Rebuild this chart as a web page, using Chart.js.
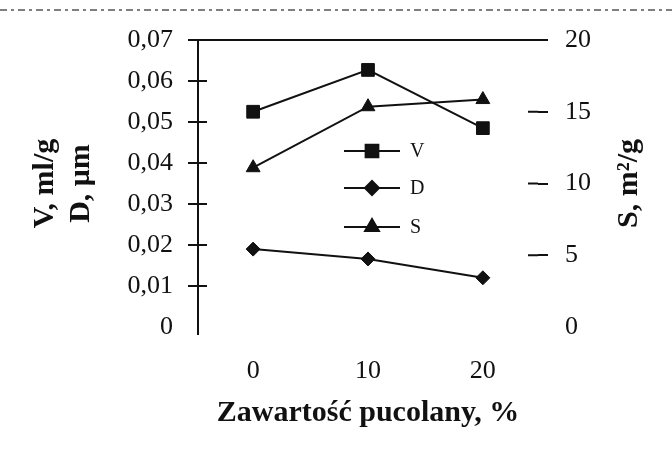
<!DOCTYPE html>
<html lang="pl">
<head>
  <meta charset="UTF-8" />
  <title>V, D, S vs zawartość pucolany</title>
  <script src="https://cdn.jsdelivr.net/npm/chart.js@4.4.0/dist/chart.umd.min.js"></script>
  <style>
    *{box-sizing:border-box;margin:0;padding:0}
    body{background:#fff;width:672px;height:474px;overflow:hidden}
    #wrap{position:relative;width:672px;height:474px}
  </style>
</head>
<body>
<div id="wrap"><canvas id="chart" width="672" height="474"></canvas></div>
<script>
/* data */
const xValues = [0, 10, 20];
const vValues = [0.0525, 0.0627, 0.0485];   // V, ml/g (left axis)
const dValues = [0.0190, 0.0166, 0.0120];   // D, um (left axis)
const sValues = [11.1, 15.35, 15.85];       // S, m2/g (right axis)
const seriesNames = ['V', 'D', 'S'];
const xTicks = [0, 10, 20];
const yTicks = [0, 0.01, 0.02, 0.03, 0.04, 0.05, 0.06, 0.07];
const yTickLabels = ['0', '0,01', '0,02', '0,03', '0,04', '0,05', '0,06', '0,07'];
const y2Ticks = [0, 5, 10, 15, 20];
const y2TickLabels = ['0', '5', '10', '15', '20'];

const ink = '#111';
const serif = "'Liberation Serif', 'DejaVu Serif', serif";
const pts = (ys) => xValues.map((x, i) => ({x: x, y: ys[i]}));

/* crossing tick marks, top frame, right title, inline legend, scan rule */
const extras = {
  id: 'extras',
  afterDraw(c) {
    const {ctx, chartArea: a, scales} = c;
    ctx.save();
    ctx.strokeStyle = ink;
    ctx.lineWidth = 2;
    // inner halves of the ticks
    scales.y.ticks.forEach(t => {
      if (t.value === 0) return;
      const p = scales.y.getPixelForValue(t.value);
      ctx.beginPath(); ctx.moveTo(a.left, p); ctx.lineTo(a.left + 9, p); ctx.stroke();
    });
    scales.y2.ticks.forEach(t => {
      if (t.value === 0) return;
      const p = scales.y2.getPixelForValue(t.value);
      ctx.beginPath(); ctx.moveTo(a.right - 10, p); ctx.lineTo(a.right, p); ctx.stroke();
    });
    // top frame line
    ctx.beginPath(); ctx.moveTo(a.left, a.top); ctx.lineTo(a.right + 2, a.top); ctx.stroke();
    // left axis runs a little below the plot
    ctx.beginPath(); ctx.moveTo(a.left, a.bottom); ctx.lineTo(a.left, a.bottom + 8); ctx.stroke();

    // dashed rule at the very top of the scan
    ctx.strokeStyle = '#555';
    ctx.lineWidth = 1.5;
    ctx.setLineDash([7, 4, 3, 4]);
    ctx.beginPath(); ctx.moveTo(0, 10); ctx.lineTo(672, 10); ctx.stroke();
    ctx.setLineDash([]);

    // right axis title, read bottom to top
    ctx.fillStyle = ink;
    ctx.font = 'bold 30px ' + serif;
    ctx.textAlign = 'center';
    ctx.textBaseline = 'middle';
    ctx.translate(629, (a.top + a.bottom) / 2);
    ctx.rotate(-Math.PI / 2);
    ctx.fillText('S, m²/g', 0, 0);
    ctx.restore();

    // legend inside the plot
    ctx.save();
    const rows = [151, 188, 227];
    c.data.datasets.forEach((ds, i) => {
      const y = rows[i];
      ctx.strokeStyle = ink;
      ctx.fillStyle = ink;
      ctx.lineWidth = 2;
      ctx.beginPath(); ctx.moveTo(344, y); ctx.lineTo(400, y); ctx.stroke();
      Chart.helpers.drawPoint(ctx, {pointStyle: ds.pointStyle, radius: ds.pointRadius, rotation: 0, borderWidth: 1}, 372, y);
      ctx.font = '20px ' + serif;
      ctx.textAlign = 'left';
      ctx.textBaseline = 'middle';
      ctx.fillText(ds.label, 410, y + 1);
    });
    ctx.restore();
  }
};

const common = {borderColor: ink, backgroundColor: ink, borderWidth: 2, tension: 0,
  pointBackgroundColor: ink, pointBorderColor: ink, pointBorderWidth: 1};

new Chart(document.getElementById('chart'), {
  type: 'line',
  data: {
    datasets: [
      Object.assign({label: seriesNames[0], data: pts(vValues), yAxisID: 'y', pointStyle: 'rect', pointRadius: 9}, common),
      Object.assign({label: seriesNames[1], data: pts(dValues), yAxisID: 'y', pointStyle: 'rectRot', pointRadius: 7}, common),
      Object.assign({label: seriesNames[2], data: pts(sValues), yAxisID: 'y2', pointStyle: 'triangle', pointRadius: 8}, common)
    ]
  },
  options: {
    responsive: false,
    animation: false,
    layout: {padding: {top: 40, left: 0, right: 0, bottom: 0}},
    plugins: {legend: {display: false}, tooltip: {enabled: false}},
    scales: {
      x: {
        type: 'linear', min: -4.8, max: 24.8,
        afterBuildTicks: s => { s.ticks = xTicks.map(v => ({value: v})); },
        afterFit: s => { s.height = 147; },
        grid: {display: false, drawTicks: false},
        border: {display: false},
        ticks: {color: ink, padding: 29, font: {family: serif, size: 26}},
        title: {display: true, text: 'Zawartość pucolany, %', color: ink,
          font: {family: serif, size: 30, weight: 'bold', lineHeight: 1.2}, padding: {top: 0, bottom: 43}}
      },
      y: {
        position: 'left', min: 0, max: 0.07,
        afterBuildTicks: s => { s.ticks = yTicks.map(v => ({value: v})); },
        afterFit: s => { s.width = 198; },
        border: {display: true, color: ink, width: 2},
        grid: {drawOnChartArea: false, tickLength: 10, lineWidth: 2,
          color: ctx => (ctx.tick && ctx.tick.value === 0) ? 'rgba(0,0,0,0)' : ink},
        ticks: {color: ink, padding: 15, font: {family: serif, size: 26},
          callback: (v, i) => yTickLabels[i]},
        title: {display: true, text: ['V, ml/g', 'D, μm'], color: ink,
          font: {family: serif, size: 30, weight: 'bold', lineHeight: 1.2}, padding: {top: 27, bottom: 0}}
      },
      y2: {
        position: 'right', min: 0, max: 20,
        afterBuildTicks: s => { s.ticks = y2Ticks.map(v => ({value: v})); },
        afterFit: s => { s.width = 134; },
        border: {display: false},
        grid: {drawOnChartArea: false, tickLength: 10, lineWidth: 2,
          color: ctx => (ctx.tick && ctx.tick.value === 0) ? 'rgba(0,0,0,0)' : ink},
        ticks: {color: ink, padding: 17, font: {family: serif, size: 26},
          callback: (v, i) => y2TickLabels[i]}
      }
    }
  },
  plugins: [extras]
});
</script>
</body>
</html>
